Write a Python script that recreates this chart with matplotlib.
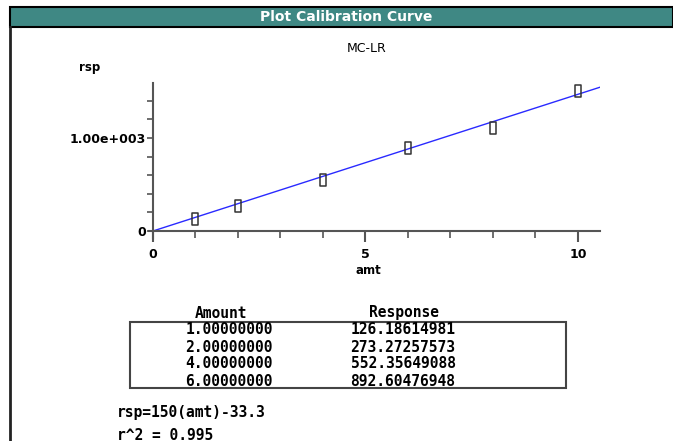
import numpy as np
import matplotlib.pyplot as plt
from matplotlib.path import Path
from matplotlib.patches import Rectangle

# calibration data (amount vs response)
amt = [1, 2, 4, 6, 8, 10]
rsp = [126.18614981, 273.27257573, 552.35649088, 892.60476948, 1108.0, 1505.0]
table_amt = ["1.00000000", "2.00000000", "4.00000000", "6.00000000"]
table_rsp = ["126.18614981", "273.27257573", "552.35649088", "892.60476948"]
slope = 150.0
intercept = -33.3
r2 = 0.995

W, H = 673, 441
fig = plt.figure(figsize=(W / 100, H / 100), dpi=100)
fig.patch.set_facecolor("white")


def fx(x):
    return x / W


def fy(y):
    return 1 - y / H


# window frame + title bar
fig.add_artist(Rectangle((fx(10), fy(27)), fx(673 - 10), 20 / H, transform=fig.transFigure,
                         facecolor="#3f8884", edgecolor="black", lw=1.5))
fig.add_artist(plt.Line2D([fx(10), fx(10)], [fy(27), 0], transform=fig.transFigure,
                          color="#222222", lw=2))
fig.text(fx(346), fy(17), "Plot Calibration Curve", color="white", fontsize=10,
         fontweight="bold", ha="center", va="center")

# plot area
x0, x1 = -0.1, 10.52
y0, y1 = -80, 1590
left_px, right_px = 153 - 0.1 * 42.5, 600
bottom_px, top_px = 231 + 80 * 0.093, 83
ax = fig.add_axes([fx(left_px), fy(bottom_px), (right_px - left_px) / W,
                   (bottom_px - top_px) / H])
ax.set_xlim(x0, x1)
ax.set_ylim(y0, y1)
for s in ["top", "right"]:
    ax.spines[s].set_visible(False)
ax.spines["left"].set_position(("data", 0))
ax.spines["bottom"].set_position(("data", 0))
for s in ["left", "bottom"]:
    ax.spines[s].set_color("#555555")
    ax.spines[s].set_linewidth(1.5)

xf = np.array([0, x1])
ax.plot(xf, np.maximum(slope * xf + intercept, 0), color="#2a2aff", lw=1)

rect = Path([(-0.5, -1), (0.5, -1), (0.5, 1), (-0.5, 1), (-0.5, -1)],
            [Path.MOVETO, Path.LINETO, Path.LINETO, Path.LINETO, Path.CLOSEPOLY])
ax.plot(amt, rsp, linestyle="none", marker=rect, markersize=8,
        markerfacecolor="none", markeredgecolor="#333333", markeredgewidth=1.1)

ax.set_xticks([0, 5, 10])
ax.set_xticks(range(0, 11), minor=True)
ax.set_yticks([0, 1000])
ax.set_yticklabels(["0", "1.00e+003"])
ax.set_yticks(range(0, 1401, 200), minor=True)
ax.tick_params(axis="x", which="major", direction="out", length=8, width=1.5,
               color="#555555", pad=4, labelsize=9)
ax.tick_params(axis="x", which="minor", direction="out", length=5, width=1.2,
               color="#555555")
ax.tick_params(axis="y", which="both", direction="out", length=4, width=1.2,
               color="#555555", pad=1, labelsize=9)
for lab in ax.get_xticklabels() + ax.get_yticklabels():
    lab.set_fontweight("bold")

fig.text(fx(367), fy(48), "MC-LR", fontsize=9, ha="center", va="center")
fig.text(fx(90), fy(67), "rsp", fontsize=8.5, fontweight="bold", ha="center", va="center")
fig.text(fx(368), fy(271), "amt", fontsize=8.5, fontweight="bold", ha="center", va="center")

# data table
mono = dict(family="DejaVu Sans Mono", fontsize=10.5, fontweight="bold", va="center",
            ha="center")
fig.add_artist(Rectangle((fx(130), fy(388)), (566 - 130) / W, (388 - 322) / H,
                         transform=fig.transFigure, facecolor="none",
                         edgecolor="#444444", lw=1.5))
fig.text(fx(221), fy(313), "Amount", **mono)
fig.text(fx(404), fy(313), "Response", **mono)
for i, (a, r) in enumerate(zip(table_amt, table_rsp)):
    yy = 330 + 17 * i
    fig.text(fx(229), fy(yy), a, **mono)
    fig.text(fx(403), fy(yy), r, **mono)

eq = dict(family="DejaVu Sans Mono", fontsize=10.5, fontweight="bold", va="center",
          ha="left")
fig.text(fx(117), fy(412), f"rsp={slope:.0f}(amt){intercept:.1f}", **eq)
fig.text(fx(117), fy(435), f"r^2 = {r2:.3f}", **eq)

fig.savefig("out.png", dpi=100)
